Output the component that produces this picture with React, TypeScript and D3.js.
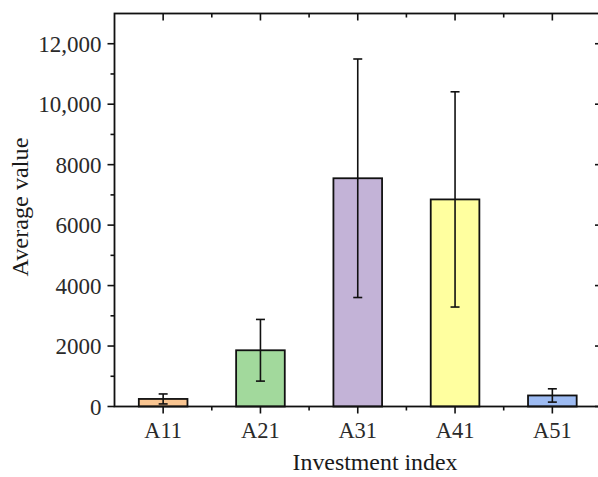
import React, { useRef, useEffect } from "react";
import * as d3 from "d3";

// data
const categories = ["A11", "A21", "A31", "A41", "A51"];
const means = [250, 1860, 7550, 6850, 365];
const errors = [165, 1020, 3945, 3560, 220];
const colors = ["#F9C591", "#A2D99C", "#C3B3D7", "#FFFF9F", "#9DBBF2"];
const yTicks = [0, 2000, 4000, 6000, 8000, 10000, 12000];
const yMinorTicks = [1000, 3000, 5000, 7000, 9000, 11000];

const W = 598, H = 477;
const left = 114.5, right = 601, top = 13.5, bottom = 406.5;

const fmt = (v: number) => (v >= 10000 ? d3.format(",")(v) : String(v));

export default function App() {
  const ref = useRef<SVGSVGElement>(null);

  useEffect(() => {
    const svg = d3.select(ref.current);
    svg.selectAll("*").remove();

    const x = d3.scaleBand<string>().domain(categories).range([left, right]).paddingInner(0.5).paddingOuter(0.25);
    const y = d3.scaleLinear().domain([0, 13000]).range([bottom, top]);
    const font = "'Liberation Serif', 'Times New Roman', serif";

    // bars
    categories.forEach((c, i) => {
      svg.append("rect")
        .attr("x", x(c)!)
        .attr("y", y(means[i]))
        .attr("width", x.bandwidth())
        .attr("height", y(0) - y(means[i]))
        .attr("fill", colors[i])
        .attr("stroke", "#111")
        .attr("stroke-width", 1.8);
    });

    // error bars
    categories.forEach((c, i) => {
      const cx = x(c)! + x.bandwidth() / 2;
      const hi = y(means[i] + errors[i]);
      const lo = y(means[i] - errors[i]);
      const g = svg.append("g").attr("stroke", "#111").attr("stroke-width", 1.6);
      g.append("line").attr("x1", cx).attr("x2", cx).attr("y1", hi).attr("y2", lo);
      g.append("line").attr("x1", cx - 4.5).attr("x2", cx + 4.5).attr("y1", hi).attr("y2", hi);
      g.append("line").attr("x1", cx - 4.5).attr("x2", cx + 4.5).attr("y1", lo).attr("y2", lo);
    });

    // frame
    svg.append("rect")
      .attr("x", left).attr("y", top)
      .attr("width", right - left).attr("height", bottom - top)
      .attr("fill", "none").attr("stroke", "#111").attr("stroke-width", 1.8);

    const ticks = svg.append("g").attr("stroke", "#111").attr("stroke-width", 1.6);

    // y ticks: outward on left, inward on right
    yTicks.forEach((v) => {
      ticks.append("line").attr("x1", left - 7).attr("x2", left).attr("y1", y(v)).attr("y2", y(v));
      ticks.append("line").attr("x1", right - 6).attr("x2", right).attr("y1", y(v)).attr("y2", y(v));
    });
    yMinorTicks.forEach((v) => {
      ticks.append("line").attr("x1", left - 4).attr("x2", left).attr("y1", y(v)).attr("y2", y(v));
      ticks.append("line").attr("x1", right - 3).attr("x2", right).attr("y1", y(v)).attr("y2", y(v));
    });

    // x ticks: outward at bottom, inward at top; minor ticks between bars
    categories.forEach((c, i) => {
      const cx = x(c)! + x.bandwidth() / 2;
      ticks.append("line").attr("x1", cx).attr("x2", cx).attr("y1", bottom).attr("y2", bottom + 7);
      ticks.append("line").attr("x1", cx).attr("x2", cx).attr("y1", top).attr("y2", top + 7);
      if (i > 0) {
        const mx = cx - x.step() / 2;
        ticks.append("line").attr("x1", mx).attr("x2", mx).attr("y1", bottom).attr("y2", bottom + 4);
        ticks.append("line").attr("x1", mx).attr("x2", mx).attr("y1", top).attr("y2", top + 4);
      }
    });

    // tick labels
    yTicks.forEach((v) => {
      svg.append("text")
        .attr("x", left - 13)
        .attr("y", y(v))
        .attr("dy", "0.35em")
        .attr("text-anchor", "end")
        .attr("font-family", font)
        .attr("font-size", 23)
        .attr("fill", "#2a2a2a")
        .text(fmt(v));
    });
    categories.forEach((c) => {
      svg.append("text")
        .attr("x", x(c)! + x.bandwidth() / 2)
        .attr("y", bottom + 31)
        .attr("text-anchor", "middle")
        .attr("font-family", font)
        .attr("font-size", 22.5)
        .attr("fill", "#2a2a2a")
        .text(c);
    });

    // axis titles
    svg.append("text")
      .attr("x", 375)
      .attr("y", 470)
      .attr("text-anchor", "middle")
      .attr("font-family", font)
      .attr("font-size", 23)
      .attr("fill", "#1a1a1a")
      .attr("textLength", 165)
      .attr("lengthAdjust", "spacingAndGlyphs")
      .text("Investment index");
    svg.append("text")
      .attr("transform", `translate(28, 207) rotate(-90)`)
      .attr("text-anchor", "middle")
      .attr("font-family", font)
      .attr("font-size", 23)
      .attr("fill", "#1a1a1a")
      .attr("textLength", 139)
      .attr("lengthAdjust", "spacingAndGlyphs")
      .text("Average value");
  }, []);

  return (
    <svg ref={ref} width={W} height={H} style={{ position: "absolute", left: 0, top: 0, background: "#fff" }} />
  );
}
